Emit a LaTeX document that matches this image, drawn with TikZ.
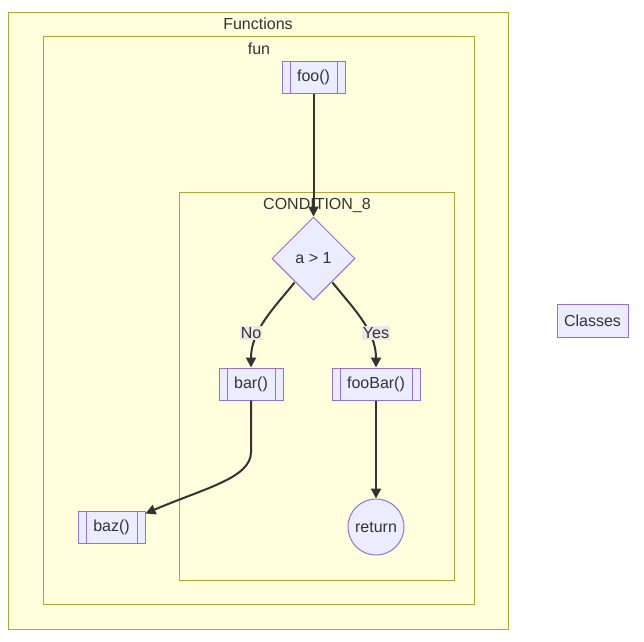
\documentclass[tikz,border=0pt]{standalone}
\usepackage{fontspec}
\setmainfont{Liberation Sans}
\usetikzlibrary{arrows.meta,positioning,shapes.geometric}
\definecolor{clfill}{HTML}{FFFFDE}
\definecolor{cldraw}{HTML}{AAAA33}
\definecolor{ndfill}{HTML}{ECECFF}
\definecolor{nddraw}{HTML}{9370DB}
\definecolor{ink}{HTML}{333333}
\definecolor{labbg}{HTML}{E8E8E8}

\begin{document}
\begin{tikzpicture}[x=1pt, y=-1pt,
  every node/.style={font=\fontsize{16}{19}\selectfont, text=ink},
  cluster/.style={draw=cldraw, fill=clfill, line width=1pt},
  box/.style={draw=nddraw, fill=ndfill, line width=1pt, inner sep=0pt, minimum height=32pt},
  sub/.style={box, path picture={
      \draw[nddraw, line width=1pt] ([xshift=8pt]path picture bounding box.north west) -- ([xshift=8pt]path picture bounding box.south west);
      \draw[nddraw, line width=1pt] ([xshift=-8pt]path picture bounding box.north east) -- ([xshift=-8pt]path picture bounding box.south east);}},
  decision/.style={box, diamond, aspect=1, minimum width=83pt, minimum height=83pt},
  endpt/.style={box, circle, minimum size=56pt},
  wire/.style={line width=2pt, draw=ink},
  edge/.style={wire, -{Triangle[length=10pt, width=10pt]}},
  lab/.style={fill=labbg, inner sep=1pt}]
  \useasboundingbox (0,0) rectangle (644,641);
  \fill[white] (0,0) rectangle (644,641);
  \draw[cluster] (8,12) rectangle (508,629);
  \node (functions) at (258,24) {Functions};
  \draw[cluster] (43,36) rectangle (474,604);
  \node (fun) at (259,49) {fun};
  \draw[cluster] (179,192) rectangle (454,580);
  \node (condition) at (317,205) {CONDITION\_8};
  \node[sub, minimum width=63pt] (foo) at (313.5,77) {foo()};
  \node[decision] (cond) at (313.5,258.5) {a > 1};
  \node[sub, minimum width=64pt] (bar) at (251,384) {bar()};
  \node[sub, minimum width=88pt] (foobar) at (376,384) {fooBar()};
  \node[sub, minimum width=67pt] (baz) at (111.5,527) {baz()};
  \node[endpt] (return) at (376,527) {return};
  \node[box, minimum width=71pt, minimum height=33pt] (classes) at (592.5,320.5) {Classes};
  \draw[edge] (foo) -- (cond);
  \draw[edge] ([shift={(2pt,-3pt)}]cond.south west) .. controls (275,307) and (251,330) .. (bar.north);
  \draw[edge] ([shift={(-2pt,-3pt)}]cond.south east) .. controls (352,307) and (376,330) .. (foobar.north);
  \draw[edge] (bar) -- (251,452) .. controls (251,478) and (205,488) .. ([yshift=-3pt]baz.north east);
  \draw[edge] (foobar) -- (return);
  \node[lab] (no) at (251,333) {No};
  \node[lab] (yes) at (376,333) {Yes};
\end{tikzpicture}
\end{document}
